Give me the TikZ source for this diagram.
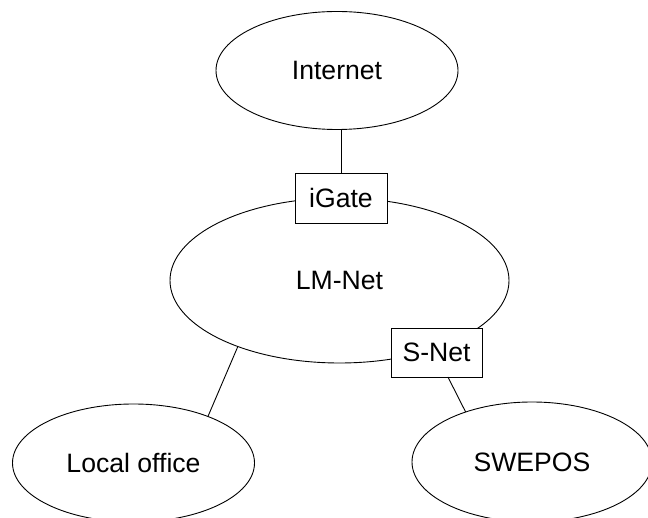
\documentclass[tikz,border=0pt]{standalone}
\usepackage{fontspec}
\setmainfont{Liberation Sans}
\usetikzlibrary{shapes.geometric}
\begin{document}
\begin{tikzpicture}[x=1pt,y=-1pt,line width=0.9pt,
  net/.style={draw,ellipse,inner sep=0pt,outer sep=0pt,font=\fontsize{26.6}{30}\selectfont},
  gate/.style={draw,rectangle,fill=white,inner sep=0pt,outer sep=0pt,font=\fontsize{26.6}{30}\selectfont}]
\useasboundingbox (0,0) rectangle (648,518);
\clip (0,0) rectangle (648,518);
\node[net,minimum width=242pt,minimum height=118pt] (internet) at (337,70.5) {Internet};
\node[net,minimum width=339pt,minimum height=165pt] (lmnet) at (339.5,280.5) {LM-Net};
\node[net,minimum width=242pt,minimum height=118pt] (local) at (133.5,463) {Local office};
\node[net,minimum width=240pt,minimum height=120pt] (swepos) at (532,462) {SWEPOS};
\node[gate,minimum width=92pt,minimum height=50pt] (igate) at (341,198) {iGate};
\node[gate,minimum width=91pt,minimum height=49pt] (snet) at (436.5,352.5) {S-Net};
\draw (igate.north) -- (igate.north |- internet.south);
\draw (lmnet.213.9) -- (local.32);
\draw (snet.-65.4) -- (swepos.143.7);
\end{tikzpicture}
\end{document}
